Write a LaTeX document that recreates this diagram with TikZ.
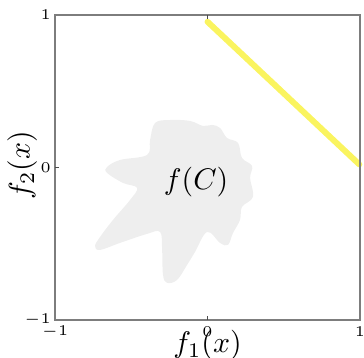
\documentclass[tikz,border=0pt]{standalone}
\usepackage{amsmath}
\usepackage{amssymb}
\usepackage{tikz}
\usepackage{xcolor}

\definecolor{frontyellow}{RGB}{250,244,95}
\definecolor{setgray}{RGB}{238,238,238}
\definecolor{boxgray}{RGB}{125,125,125}

\begin{document}
\begin{tikzpicture}[scale=1.8]
    % Style definitions
    \tikzset{
        axisbox/.style={boxgray, line width=0.7pt},
        tickmark/.style={black!70, line width=0.4pt},
        ticklabel/.style={inner sep=0pt, font=\fontsize{5.5}{6}\selectfont},
        front/.style={frontyellow, line width=2pt, line cap=round},
        region/.style={fill=setgray, draw=none}
    }
    \useasboundingbox (-1.361,-1.249) rectangle (1.026,1.098);

    % ==========================================
    % IMAGE SET f(C)
    % ==========================================
    \fill[region] plot[smooth cycle, tension=0.6] coordinates {
        (-0.344,0.292) (-0.246,0.311) (-0.115,0.305) (-0.030,0.272)
        (0.030,0.279) (0.082,0.259) (0.128,0.193) (0.200,0.161)
        (0.226,0.062) (0.292,0.010) (0.279,-0.069) (0.298,-0.193)
        (0.226,-0.259) (0.213,-0.344) (0.167,-0.430) (0.134,-0.508)
        (0.082,-0.495) (-0.003,-0.423) (-0.082,-0.554) (-0.134,-0.639)
        (-0.200,-0.738) (-0.266,-0.757) (-0.292,-0.705) (-0.298,-0.541)
        (-0.311,-0.423) (-0.397,-0.436) (-0.574,-0.495) (-0.705,-0.541)
        (-0.738,-0.515) (-0.705,-0.456) (-0.620,-0.344) (-0.508,-0.213)
        (-0.462,-0.134) (-0.554,-0.102) (-0.659,-0.036) (-0.659,0.003)
        (-0.574,0.049) (-0.397,0.082) (-0.377,0.180)
    };
    \node (setlabel) at (-0.075,-0.095) {$f(C)$};

    % ==========================================
    % PARETO FRONT
    % ==========================================
    \coordinate (frontstart) at (0,0.955);
    \coordinate (frontend) at (0.995,0.02);
    \draw[front] (frontstart) -- (frontend);

    % ==========================================
    % AXES BOX AND TICKS
    % ==========================================
    \draw[axisbox] (-1,-1) rectangle (1,1);
    \draw[tickmark] (0,-1) -- (0,-0.975);
    \draw[tickmark] (0,1) -- (0,0.975);
    \draw[tickmark] (-1,0) -- (-0.975,0);

    \node[ticklabel] (xm) at (-1,-1.079) {$-1$};
    \node[ticklabel] (xz) at (0,-1.079) {$0$};
    \node[ticklabel] (xp) at (1,-1.079) {$1$};
    \node[ticklabel, anchor=east] (ym) at (-1.025,-1.0) {$-1$};
    \node[ticklabel, anchor=east] (yz) at (-1.025,0.0) {$0$};
    \node[ticklabel, anchor=east] (yp) at (-1.025,1.0) {$1$};

    \node (xlabel) at (0,-1.165) {$f_1(x)$};
    \node[rotate=90] (ylabel) at (-1.216,0.016) {$f_2(x)$};
\end{tikzpicture}
\end{document}
